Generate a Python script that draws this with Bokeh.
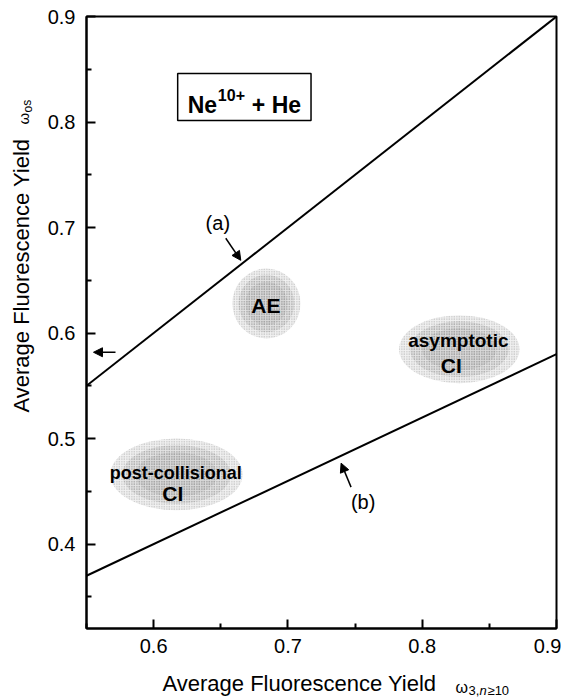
from bokeh.plotting import figure
from bokeh.models import Label, Arrow, NormalHead, FixedTicker, Range1d
from bokeh.layouts import row, column
from bokeh.embed import file_html
from bokeh.resources import INLINE

# ---- data ----
line_a_x = [0.55, 0.90]
line_a_y = [0.55, 0.90]
line_b_x = [0.55, 0.90]
line_b_y = [0.37, 0.58]

x_ticks = [0.6, 0.7, 0.8, 0.9]
x_minor = [0.55, 0.65, 0.75, 0.85]
y_ticks = [0.4, 0.5, 0.6, 0.7, 0.8, 0.9]
y_minor = [0.35, 0.45, 0.55, 0.65, 0.75, 0.85]

# regions (centre x, centre y, width, height) in data units
region_names = ["AE", "asymptotic CI", "post-collisional CI"]
region_cx = [0.684, 0.8276, 0.617]
region_cy = [0.628, 0.5847, 0.466]
region_w = [0.0507, 0.0896, 0.0985]
region_h = [0.0663, 0.0644, 0.068]

FONT = "Liberation Sans"

p = figure(width=521, height=666, x_range=Range1d(0.55, 0.9), y_range=Range1d(0.32, 0.9),
           output_backend="svg", toolbar_location=None,
           min_border_left=46, min_border_right=5, min_border_top=16, min_border_bottom=38)
p.xgrid.visible = False
p.ygrid.visible = False
p.background_fill_color = "white"
p.border_fill_color = "white"
p.outline_line_color = "black"
p.outline_line_width = 2

for ax, tk, mn in ((p.xaxis, x_ticks, x_minor), (p.yaxis, y_ticks, y_minor)):
    ax.ticker = FixedTicker(ticks=tk, minor_ticks=mn)
    ax.axis_line_width = 2
    ax.major_tick_line_width = 2
    ax.minor_tick_line_width = 2
    ax.major_tick_in = 9
    ax.major_tick_out = 0
    ax.minor_tick_in = 5
    ax.minor_tick_out = 0
    ax.major_label_text_font = FONT
    ax.major_label_text_font_size = "20px"
    ax.major_label_text_color = "black"
p.xaxis.major_label_standoff = 10
p.yaxis.major_label_standoff = 11

# stippled regions: layered ellipses
for scale, alpha in ((1.0, 0.25), (0.82, 0.32), (0.62, 0.38)):
    p.ellipse(x=region_cx, y=region_cy,
              width=[w * scale for w in region_w], height=[h * scale for h in region_h],
              fill_color="#c8c8c8", fill_alpha=alpha, line_color=None,
              hatch_pattern="dot", hatch_color="#606060", hatch_scale=2.5, hatch_alpha=0.5)

p.line(line_a_x, line_a_y, line_color="black", line_width=2)
p.line(line_b_x, line_b_y, line_color="black", line_width=2)

# title box
p.quad(left=[0.6179], right=[0.7172], bottom=[0.8015], top=[0.846],
       fill_color="white", line_color="black", line_width=1.5)


def lab(fig, x, y, text, size, bold=False, italic=False, align="center", baseline="middle", angle=0.0):
    style = "bold" if bold else ("italic" if italic else "normal")
    fig.add_layout(Label(x=x, y=y, text=text, text_font=FONT, text_font_size=size,
                         text_font_style=style, text_align=align, text_baseline=baseline,
                         text_color="black", angle=angle))


# title text
lab(p, 0.6254, 0.8162, "Ne", "23px", bold=True, align="left", baseline="alphabetic")
lab(p, 0.6478, 0.8258, "10+", "16px", bold=True, align="left", baseline="alphabetic")
lab(p, 0.6731, 0.8162, "+ He", "23px", bold=True, align="left", baseline="alphabetic")

# region texts
lab(p, 0.6836, 0.6262, "AE", "21px", bold=True)
lab(p, 0.8269, 0.5932, "asymptotic", "19px", bold=True)
lab(p, 0.8216, 0.5695, "CI", "21px", bold=True)
lab(p, 0.6164, 0.4672, "post-collisional", "18px", bold=True)
lab(p, 0.6142, 0.4483, "CI", "21px", bold=True)

# (a), (b) labels
lab(p, 0.6478, 0.704, "(a)", "20px")
lab(p, 0.756, 0.4398, "(b)", "20px")

head = dict(size=9, fill_color="black", line_color="black")
p.add_layout(Arrow(end=NormalHead(**head), x_start=0.6537, y_start=0.6898,
                   x_end=0.6649, y_end=0.6689, line_width=1.5))
p.add_layout(Arrow(end=NormalHead(**head), x_start=0.7470, y_start=0.4540,
                   x_end=0.7396, y_end=0.4767, line_width=1.5))
p.add_layout(Arrow(end=NormalHead(**head), x_start=0.5716, y_start=0.5818,
                   x_end=0.5552, y_end=0.5818, line_width=1.5))

# ---- axis titles in their own small panels ----
XW, XH = 521, 32     # x-title panel below the plot (frame aligned with main frame 86..556)
YW, YH = 40, 698     # y-title panel at the left


def blank(w, h):
    f = figure(width=w, height=h, x_range=Range1d(0, 1), y_range=Range1d(0, 1),
               output_backend="svg", toolbar_location=None,
               x_axis_type=None, y_axis_type=None, min_border=0)
    f.outline_line_color = None
    f.xgrid.visible = False
    f.ygrid.visible = False
    return f


px = blank(XW, XH)


def xpos(page_x):
    return (page_x - 86) / 470


def xposy(page_y):
    return (698 - page_y) / XH


lab(px, xpos(162), xposy(683), "Average Fluorescence Yield", "22px", align="left")
lab(px, xpos(455), xposy(687), "\u03c9", "16px", align="left")
lab(px, xpos(468), xposy(690), "3,", "13px", align="left")
lab(px, xpos(479), xposy(690), "n", "13px", italic=True, align="left")
lab(px, xpos(487), xposy(690), "\u226510", "13px", align="left")

py = blank(YW, YH)


def ypos(page_y):
    return (698 - page_y) / YH


lab(py, 21 / YW, ypos(412), "Average Fluorescence Yield", "22px", align="left", angle=1.5708)
lab(py, 23 / YW, ypos(124), "\u03c9", "15px", align="left", angle=1.5708)
lab(py, 27 / YW, ypos(112), "os", "12px", align="left", angle=1.5708)

layout = row(py, column(p, px))
open("out.html", "w").write(file_html(layout, INLINE))
